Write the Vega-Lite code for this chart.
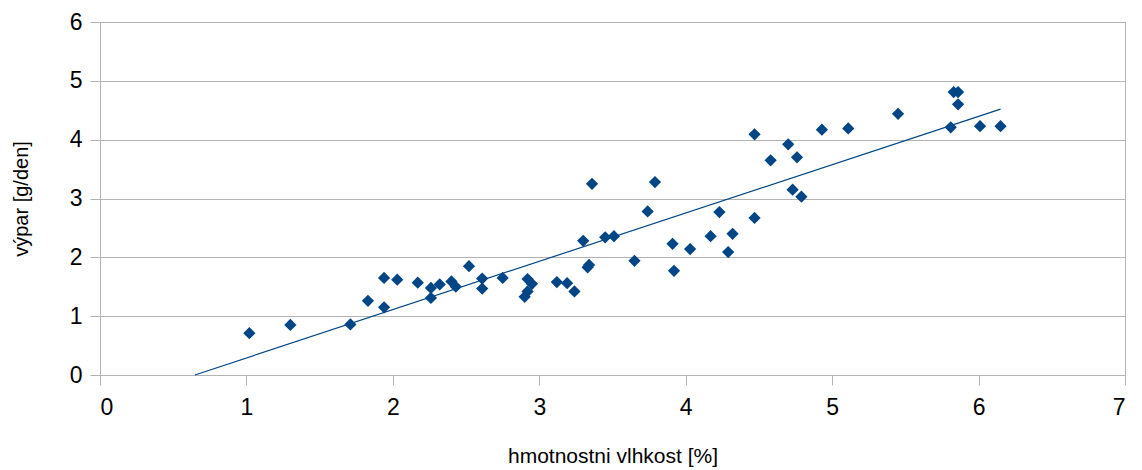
{
  "$schema": "https://vega.github.io/schema/vega-lite/v6.json",
  "autosize": {"type": "none"},
  "width": 1025,
  "height": 353,
  "padding": {"left": 100, "top": 22, "right": 17, "bottom": 95},
  "background": "white",
  "config": {
    "view": {"stroke": "#b3b3b3", "strokeWidth": 1},
    "font": "Liberation Sans",
    "axis": {
      "labelFont": "Liberation Sans",
      "titleFont": "Liberation Sans",
      "labelColor": "#000000",
      "titleColor": "#000000",
      "titleFontWeight": "normal",
      "domainColor": "#b3b3b3",
      "tickColor": "#b3b3b3",
      "gridColor": "#b3b3b3",
      "tickSize": 10,
      "labelFontSize": 23,
      "titleFontSize": 20,
      "format": "d"
    }
  },
  "datasets": {
    "points": [
      {"vlhkost": 1.02, "vypar": 0.71},
      {"vlhkost": 1.30, "vypar": 0.85},
      {"vlhkost": 1.71, "vypar": 0.86},
      {"vlhkost": 1.83, "vypar": 1.26},
      {"vlhkost": 1.94, "vypar": 1.65},
      {"vlhkost": 1.94, "vypar": 1.15},
      {"vlhkost": 2.03, "vypar": 1.62},
      {"vlhkost": 2.17, "vypar": 1.57},
      {"vlhkost": 2.26, "vypar": 1.48},
      {"vlhkost": 2.26, "vypar": 1.31},
      {"vlhkost": 2.32, "vypar": 1.54},
      {"vlhkost": 2.40, "vypar": 1.59},
      {"vlhkost": 2.43, "vypar": 1.50},
      {"vlhkost": 2.52, "vypar": 1.85},
      {"vlhkost": 2.61, "vypar": 1.64},
      {"vlhkost": 2.61, "vypar": 1.47},
      {"vlhkost": 2.75, "vypar": 1.65},
      {"vlhkost": 2.90, "vypar": 1.33},
      {"vlhkost": 2.92, "vypar": 1.42},
      {"vlhkost": 2.92, "vypar": 1.63},
      {"vlhkost": 2.95, "vypar": 1.55},
      {"vlhkost": 3.12, "vypar": 1.58},
      {"vlhkost": 3.19, "vypar": 1.56},
      {"vlhkost": 3.24, "vypar": 1.42},
      {"vlhkost": 3.30, "vypar": 2.28},
      {"vlhkost": 3.33, "vypar": 1.83},
      {"vlhkost": 3.34, "vypar": 1.87},
      {"vlhkost": 3.36, "vypar": 3.25},
      {"vlhkost": 3.45, "vypar": 2.34},
      {"vlhkost": 3.51, "vypar": 2.36},
      {"vlhkost": 3.65, "vypar": 1.94},
      {"vlhkost": 3.74, "vypar": 2.78},
      {"vlhkost": 3.79, "vypar": 3.28},
      {"vlhkost": 3.91, "vypar": 2.23},
      {"vlhkost": 3.92, "vypar": 1.77},
      {"vlhkost": 4.03, "vypar": 2.14},
      {"vlhkost": 4.17, "vypar": 2.36},
      {"vlhkost": 4.23, "vypar": 2.77},
      {"vlhkost": 4.29, "vypar": 2.09},
      {"vlhkost": 4.32, "vypar": 2.40},
      {"vlhkost": 4.47, "vypar": 2.67},
      {"vlhkost": 4.47, "vypar": 4.09},
      {"vlhkost": 4.58, "vypar": 3.65},
      {"vlhkost": 4.70, "vypar": 3.92},
      {"vlhkost": 4.73, "vypar": 3.15},
      {"vlhkost": 4.76, "vypar": 3.70},
      {"vlhkost": 4.79, "vypar": 3.03},
      {"vlhkost": 4.93, "vypar": 4.17},
      {"vlhkost": 5.11, "vypar": 4.19},
      {"vlhkost": 5.45, "vypar": 4.44},
      {"vlhkost": 5.81, "vypar": 4.21},
      {"vlhkost": 5.83, "vypar": 4.81},
      {"vlhkost": 5.86, "vypar": 4.81},
      {"vlhkost": 5.86, "vypar": 4.60},
      {"vlhkost": 6.01, "vypar": 4.23},
      {"vlhkost": 6.15, "vypar": 4.23}
    ],
    "trend": [
      {"vlhkost": 0.648, "vypar": 0},
      {"vlhkost": 6.15, "vypar": 4.52}
    ]
  },
  "layer": [
    {
      "data": {"name": "trend"},
      "mark": {"type": "line", "color": "#004586", "strokeWidth": 1.2},
      "encoding": {
        "x": {"field": "vlhkost", "type": "quantitative"},
        "y": {"field": "vypar", "type": "quantitative"}
      }
    },
    {
      "data": {"name": "points"},
      "mark": {"type": "point", "shape": "diamond", "filled": true, "color": "#004586", "opacity": 1, "size": 150},
      "encoding": {
        "x": {
          "field": "vlhkost",
          "type": "quantitative",
          "scale": {"domain": [0, 7], "nice": false, "zero": true},
          "axis": {
            "title": "hmotnostni vlhkost [%]",
            "values": [0, 1, 2, 3, 4, 5, 6, 7],
            "grid": false,
            "labelPadding": 11,
            "titlePadding": 26,
            "titleFontSize": 21
          }
        },
        "y": {
          "field": "vypar",
          "type": "quantitative",
          "scale": {"domain": [0, 6], "nice": false},
          "axis": {
            "title": "výpar [g/den]",
            "values": [0, 1, 2, 3, 4, 5, 6],
            "grid": true,
            "labelPadding": 8,
            "titlePadding": 38
          }
        }
      }
    }
  ]
}
